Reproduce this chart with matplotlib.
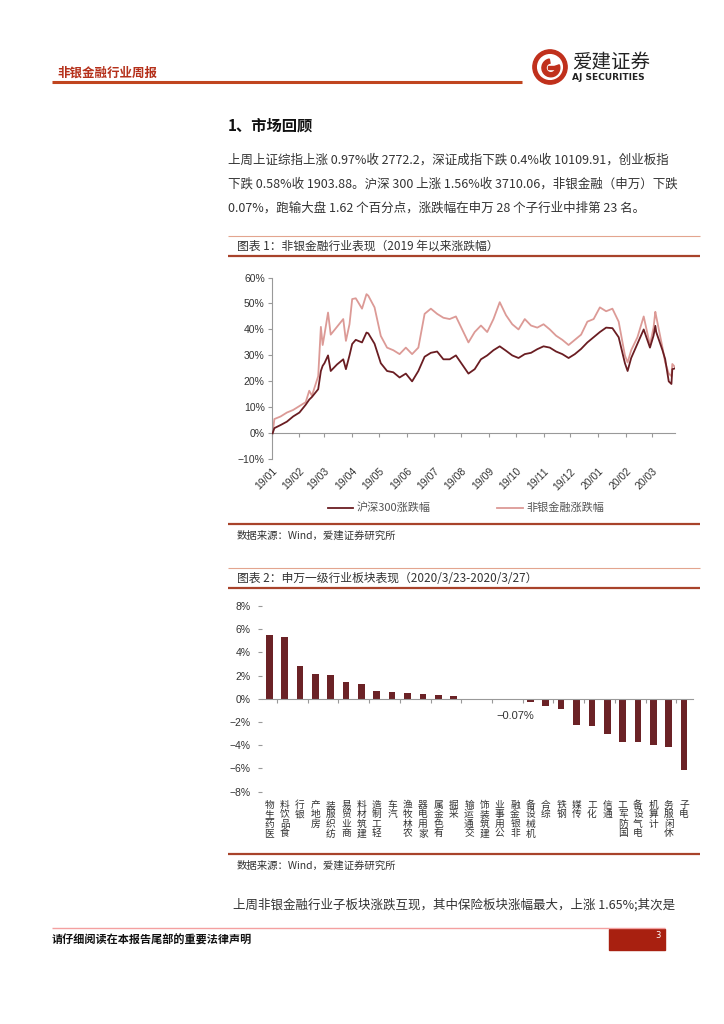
import matplotlib
matplotlib.use('Agg')
import matplotlib.pyplot as plt
import matplotlib.transforms as mtransforms
from matplotlib.lines import Line2D
from matplotlib.patches import Rectangle, Circle, Wedge
from matplotlib.ticker import FuncFormatter
import numpy as np
import pandas as pd

plt.rcParams['font.family'] = ['Noto Sans CJK SC', 'DejaVu Sans']

week_dates = pd.DatetimeIndex(['2019-01-02']).append(
    pd.date_range('2019-01-04', '2020-03-27', freq='W-FRI'))
hs300_pct = [0, 2.0, 3.2, 4.5, 6.5, 8.0, 11.0, 14.0, 17.0, 27.0, 24.0,
             26.5, 28.5, 30.0, 36.0, 35.0, 38.5, 34.5, 27.0, 24.0, 23.5,
             21.5, 23.0, 20.0, 24.0, 29.5, 31.0, 31.5, 28.5, 28.5, 30.0,
             26.5, 23.0, 24.7, 28.5, 30.0, 32.0, 33.5, 31.8, 30.0, 29.0,
             30.5, 31.0, 32.4, 33.5, 33.0, 31.5, 30.5, 29.0, 30.5, 32.5,
             35.0, 37.0, 39.0, 40.7, 40.5, 37.0, 27.0, 29.0, 34.5, 40.0,
             33.0, 39.0, 32.0, 20.0, 25.0]
nonbank_pct = [0, 5.5, 6.5, 8.0, 9.0, 10.5, 12.0, 14.5, 22.0, 38.0, 38.0,
               41.0, 44.0, 42.0, 52.0, 48.0, 53.0, 48.5, 37.5, 33.0, 32.0,
               30.5, 33.0, 30.5, 33.0, 46.0, 48.0, 46.0, 44.5, 44.0, 45.0,
               40.0, 35.0, 39.0, 41.5, 39.0, 44.0, 50.5, 45.5, 42.0, 40.0,
               44.0, 41.5, 40.7, 42.0, 40.0, 37.6, 36.0, 34.0, 36.0, 38.0,
               43.0, 44.0, 48.5, 47.0, 48.0, 43.0, 30.0, 32.0, 37.0, 45.0,
               34.0, 45.0, 33.0, 23.0, 25.5]
# extra mid-week readings where the lines swing hard
extra_dates = pd.DatetimeIndex(['2019-02-12', '2019-02-25', '2019-02-27', '2019-03-05',
                                '2019-03-25', '2019-04-01', '2019-04-17', '2020-02-03',
                                '2020-03-03', '2020-03-05', '2020-03-16', '2020-03-23',
                                '2020-03-24'])
extra_hs300 = [13.0, 24.0, 26.0, 30.0, 24.7, 34.4, 38.8, 24.0, 37.6, 41.4, 28.6, 19.0, 24.7]
extra_nonbank = [16.4, 41.0, 34.0, 46.5, 35.6, 51.7, 53.6, 27.3, 40.7, 46.8, 27.3, 22.0, 26.7]

month_ticks = pd.date_range('2019-01-01', '2020-03-01', freq='MS')
month_labels = [d.strftime('%y/%m') for d in month_ticks]

# ---- chart 2 data: SW level-1 industries, 2020/3/23-2020/3/27 (%) ----
industries = ['医药生物', '食品饮料', '银行', '房地产', '纺织服装', '商业贸易',
              '建筑材料', '轻工制造', '汽车', '农林牧渔', '家用电器', '有色金属',
              '采掘', '交通运输', '建筑装饰', '公用事业', '非银金融', '机械设备',
              '综合', '钢铁', '传媒', '化工', '通信', '国防军工', '电气设备',
              '计算机', '休闲服务', '电子']
week_ret = [5.51, 5.29, 2.80, 2.11, 2.06, 1.43, 1.31, 0.69, 0.63, 0.49, 0.43,
            0.37, 0.23, 0.03, 0.01, -0.01, -0.07, -0.29, -0.60, -0.86, -2.29,
            -2.37, -3.06, -3.74, -3.75, -4.00, -4.11, -6.17]

DARK = '#6a1d22'
PINK = '#dc9a96'
BAR = '#6b2226'
RULE = '#a8432b'
TXT = '#333333'

perf = pd.concat([
    pd.DataFrame({'hs300': hs300_pct, 'nonbank': nonbank_pct}, index=week_dates),
    pd.DataFrame({'hs300': extra_hs300, 'nonbank': extra_nonbank}, index=extra_dates),
]).sort_index()

W, H = 724, 1024
fig = plt.figure(figsize=(W / 100, H / 100), dpi=100)


def fx(x):
    return x / W


def fy(y):
    return 1 - y / H


def hline(x0, x1, y, color, lw):
    fig.add_artist(Line2D([fx(x0), fx(x1)], [fy(y), fy(y)], transform=fig.transFigure,
                          color=color, lw=lw, solid_capstyle='butt'))


def txt(x, y, s, **kw):
    kw.setdefault('color', TXT)
    fig.text(fx(x), fy(y), s, va='center', **kw)


# header
txt(57, 73, '非银金融行业周报', fontsize=9, fontweight='bold', color='#b5301a')
hline(52, 522, 82, '#c0451f', 2.2)
logo = fig.add_axes([fx(532), fy(85), 36 / W, 36 / H])
logo.set_aspect('equal')
logo.set_xlim(-1.05, 1.05)
logo.set_ylim(-1.05, 1.05)
logo.axis('off')
logo.add_patch(Circle((0, 0), 1.0, color='#c0301c'))
logo.add_patch(Circle((0, 0), 0.72, color='white'))
logo.add_patch(Wedge((0.05, -0.05), 0.52, 100, 380, width=0.24, color='#c0301c'))
logo.add_patch(Rectangle((-0.1, -0.12), 0.42, 0.2, color='#c0301c'))
txt(572, 62, '爱建证券', fontsize=14, color='#222222')
txt(572, 77, 'AJ SECURITIES', fontsize=6.5, fontweight='bold', color='#222222',
    family='DejaVu Sans')

# section heading and paragraph
txt(228, 125, '1、市场回顾', fontsize=11, fontweight='bold', color='#111111')
para = ['上周上证综指上涨 0.97%收 2772.2，深证成指下跌 0.4%收 10109.91，创业板指',
        '下跌 0.58%收 1903.88。沪深 300 上涨 1.56%收 3710.06，非银金融（申万）下跌',
        '0.07%，跑输大盘 1.62 个百分点，涨跌幅在申万 28 个子行业中排第 23 名。']
for i, line in enumerate(para):
    txt(228, 160 + 24 * i, line, fontsize=9)

# chart 1 frame
hline(228, 700, 236, '#e3a58f', 0.8)
txt(237, 246.5, '图表 1：非银金融行业表现（2019 年以来涨跌幅）', fontsize=8.5)
hline(228, 700, 256, RULE, 1.6)
hline(228, 700, 524, RULE, 1.6)
txt(237, 536, '数据来源：Wind，爱建证券研究所', fontsize=7.5)

ax1 = fig.add_axes([fx(271.7), fy(459.3), (675 - 271.7) / W, (459.3 - 277.5) / H])
ax1.plot(perf.index, perf['hs300'], color=DARK, lw=1.3, label='沪深300涨跌幅', zorder=3)
ax1.plot(perf.index, perf['nonbank'], color=PINK, lw=1.3, label='非银金融涨跌幅', zorder=2)
ax1.set_xlim(pd.Timestamp('2019-01-01'), pd.Timestamp('2020-03-27'))
ax1.set_ylim(-10, 60)
ax1.set_yticks(range(-10, 61, 10))
ax1.yaxis.set_major_formatter(FuncFormatter(lambda v, p: f'{v:.0f}%'.replace('-', '−')))
for s in ['top', 'right']:
    ax1.spines[s].set_visible(False)
ax1.spines['left'].set_color('#999999')
ax1.spines['left'].set_linewidth(0.8)
ax1.spines['bottom'].set_position(('data', 0))
ax1.spines['bottom'].set_color('#999999')
ax1.spines['bottom'].set_linewidth(0.8)
ax1.set_xticks(month_ticks)
ax1.tick_params(axis='x', length=3, width=0.8, color='#999999', labelbottom=False)
ax1.tick_params(axis='y', length=3, width=0.8, color='#999999', labelsize=7.5,
                pad=2, labelcolor=TXT)
for lab in ax1.get_yticklabels():
    lab.set_family(['Liberation Sans', 'DejaVu Sans'])
sec = ax1.secondary_xaxis('bottom')
sec.spines['bottom'].set_visible(False)
sec.set_xticks(month_ticks)
sec.set_xticklabels(month_labels, rotation=45, ha='right', rotation_mode='anchor',
                    fontsize=7.5, family=['Liberation Sans', 'DejaVu Sans'], color=TXT)
sec.tick_params(length=0, pad=5)
ax1.legend(loc='center', bbox_to_anchor=(fx(466), fy(508)), bbox_transform=fig.transFigure,
           ncol=2, frameon=False, fontsize=8, handlelength=2.3, handletextpad=0.3,
           columnspacing=6.0, labelcolor='#555555')

# chart 2 frame
hline(228, 700, 568, '#e3a58f', 0.8)
txt(237, 578.5, '图表 2：申万一级行业板块表现（2020/3/23-2020/3/27）', fontsize=8.5)
hline(228, 700, 588, RULE, 1.6)
hline(228, 700, 854, RULE, 1.6)
txt(237, 866, '数据来源：Wind，爱建证券研究所', fontsize=7.5)

ax2 = fig.add_axes([fx(262), fy(791.7), (693 - 262) / W, (791.7 - 606) / H])
xpos = np.arange(len(industries))
ax2.bar(xpos, week_ret, width=0.43, color=BAR, zorder=2)
ax2.set_xlim(-0.47, 27.58)
ax2.set_ylim(-8, 8)
ax2.set_yticks(range(-8, 9, 2))
ax2.yaxis.set_major_formatter(FuncFormatter(lambda v, p: f'{v:.0f}%'.replace('-', '−')))
for s in ['top', 'right', 'left']:
    ax2.spines[s].set_visible(False)
ax2.spines['bottom'].set_position(('data', 0))
ax2.spines['bottom'].set_color('#999999')
ax2.spines['bottom'].set_linewidth(0.8)
ax2.set_xticks(np.arange(0.5, 27, 2))
ax2.tick_params(axis='x', length=3, width=0.8, color='#999999', labelbottom=False)
ax2.tick_params(axis='y', length=3, width=0.8, color='#999999', labelsize=7.5,
                pad=5, labelcolor=TXT)
for lab in ax2.get_yticklabels():
    lab.set_family(['Liberation Sans', 'DejaVu Sans'])
blend = mtransforms.blended_transform_factory(ax2.transData, ax2.transAxes)
for i, name in enumerate(industries):
    ax2.text(i, -0.043, '\n'.join(reversed(name)), transform=blend, ha='center',
             va='top', fontsize=7, linespacing=0.95, color=TXT)
k = industries.index('非银金融')
ax2.annotate(f'{week_ret[k]:.2f}%'.replace('-', '−'), (k, week_ret[k]), xytext=(0, -11.5),
             textcoords='offset points', ha='center', va='center', fontsize=8,
             family=['Liberation Sans', 'DejaVu Sans'], color=TXT)

# closing paragraph and footer
txt(233, 905, '上周非银金融行业子板块涨跌互现，其中保险板块涨幅最大，上涨 1.65%;其次是',
    fontsize=9)
hline(52, 665, 928, '#f4a0a0', 1.0)
txt(52, 940, '请仔细阅读在本报告尾部的重要法律声明', fontsize=8, fontweight='bold',
    color='#111111')
fig.add_artist(Rectangle((fx(609), fy(950)), 56 / W, 21 / H, transform=fig.transFigure,
                         color='#a82010'))
txt(655, 935, '3', fontsize=6, color='white', family='DejaVu Sans')

fig.savefig('out.png', dpi=100)
